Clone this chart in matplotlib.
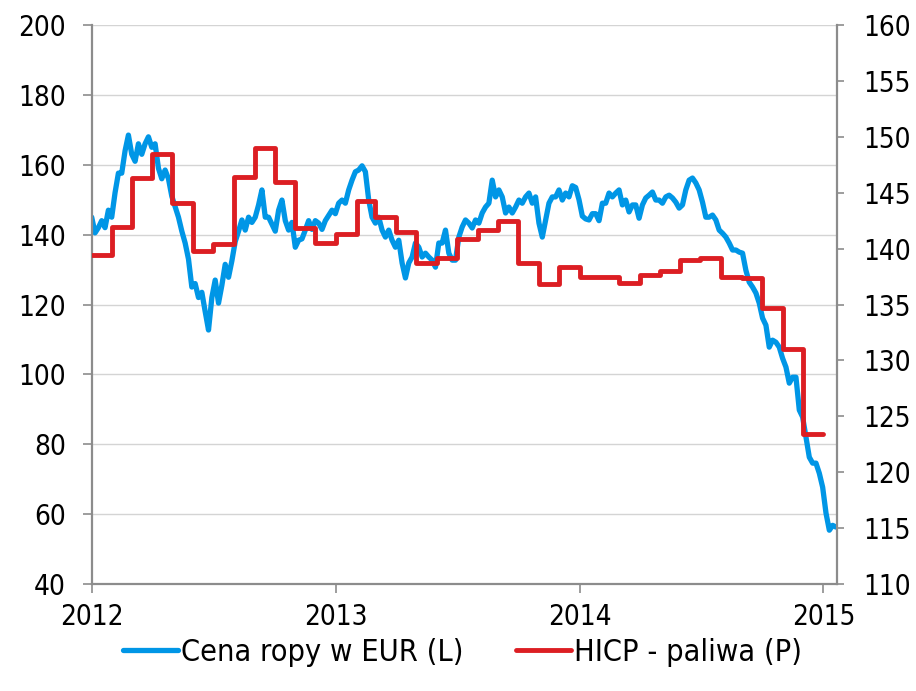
import numpy as np
import pandas as pd
import matplotlib
matplotlib.use("Agg")
import matplotlib.pyplot as plt
import matplotlib.dates as mdates

# oil price in EUR, read every 5 days from 2012-01-01 (left axis)
oil_start = "2012-01-01"
oil_eur = [
    145, 140.5, 142, 144, 142, 147, 145, 152, 157.6, 157.6,
    164, 168.5, 163, 161, 166, 163, 166, 168, 165, 166,
    159, 156, 158.5, 156, 151, 148, 145, 141, 137.6, 133,
    125, 126, 122, 123.5, 118, 112.7, 122, 127, 120.4, 125.5,
    131.5, 127.8, 132.5, 138, 141, 144.2, 141.3, 145, 143.5, 145,
    148.5, 152.8, 145, 145, 143, 141, 147, 149.9, 144, 141.3,
    143.5, 136.4, 138.4, 138.8, 141.3, 144, 141.5, 144, 143.3, 141.5,
    144, 145.5,
    147, 146, 149, 149.9, 149, 152.8, 155.6, 158, 158.5, 159.7,
    158, 149.9, 145, 143.3, 145, 141.3, 139.3, 141.3, 138.4, 136.4,
    138.4, 131.9, 127.6, 131.9, 133.6, 137.6, 136.4, 133.6, 134.7, 133.6,
    132.7, 130.7, 137.6, 137.6, 141.3, 134.7, 132.7, 132.7, 139.3, 142.2,
    144.2, 143.3, 141.9, 144.2, 143.3, 146.2, 147.9, 149, 155.6, 150.8,
    152.8, 150.8, 146.2, 147.9, 146.2, 147.9, 149.9, 149, 150.8, 151.9,
    149, 150.8, 143.3, 139.3, 144.2, 149, 150.8, 150.8, 152.8, 149.9,
    151.9, 150.8,
    154, 153.5, 150, 145.3, 144.5, 144.2, 146, 146, 144, 149,
    149, 151.9, 150.8, 151.9, 152.8, 148.5, 149.9, 146.5, 148.5, 148.5,
    144.7, 148.5, 150.5, 151.3, 152.2, 149.9, 149.9, 149, 150.8, 151.3,
    150.5, 149.3, 147.6, 148.5, 152.8, 155.6, 156.2, 154.8, 152.8, 149.3,
    145, 145, 145.6, 144.2, 141.3, 140.4, 139.3, 137.6, 135.6, 135.6,
    135, 134.7, 129.8, 126.4, 125, 123.3, 120.4, 116.1, 114.1, 107.8,
    109.8, 109.2, 107.8, 104.6, 102.1, 97.5, 99.2, 99.2, 89.8, 87.8,
    82, 76.3, 74.6, 74.6, 71.7, 67.7, 60.3, 55.4, 56.8, 56.3,
]

# HICP fuels, monthly Jan 2012 - Dec 2014 (right axis)
hicp_start = "2012-01-01"
hicp_fuel = [
    139.4, 141.9, 146.3, 148.5, 144.1, 139.8, 140.4, 146.4, 149.0, 146.0, 141.8, 140.5,
    141.3, 144.3, 142.8, 141.5, 138.7, 139.2, 140.9, 141.7, 142.5, 138.7, 136.8, 138.4,
    137.5, 137.5, 136.9, 137.6, 138.0, 139.0, 139.2, 137.5, 137.4, 134.7, 131.0, 123.4,
]

year_ticks = ["2012", "2013", "2014", "2015"]
label_oil = "Cena ropy w EUR (L)"
label_hicp = "HICP - paliwa (P)"

blue = "#0096E6"
red = "#DC1E23"
spine_col = "#8C8C8C"
grid_col = "#D4D4D4"

plt.rcParams["font.family"] = ["DejaVu Sans"]
plt.rcParams["font.stretch"] = "condensed"
fs = 20

oil_dates = pd.date_range(oil_start, periods=len(oil_eur), freq="5D")
hicp_dates = pd.date_range(hicp_start, periods=len(hicp_fuel) + 1, freq="MS")
hicp_vals = hicp_fuel + [hicp_fuel[-1]]

fig = plt.figure(figsize=(9.16, 6.91), dpi=100)
ax = fig.add_axes([0.1001, 0.1548, 0.8133, 0.8090])
ax2 = ax.twinx()

l1, = ax.plot(oil_dates, oil_eur, color=blue, lw=3.8,
              solid_capstyle="round", solid_joinstyle="round", label=label_oil)
l2, = ax2.step(hicp_dates, hicp_vals, where="post", color=red, lw=3.5,
               solid_capstyle="round", solid_joinstyle="round", label=label_hicp)

ax.set_xlim(pd.Timestamp("2012-01-01"), pd.Timestamp("2015-01-21"))
ax.set_ylim(40, 200)
ax2.set_ylim(110, 160)
ax.set_yticks(np.arange(40, 201, 20))
ax2.set_yticks(np.arange(110, 161, 5))
ax.set_xticks([pd.Timestamp(y + "-01-01") for y in year_ticks])
ax.xaxis.set_major_formatter(mdates.DateFormatter("%Y"))

ax.grid(axis="y", color=grid_col, lw=1.0)
ax.set_axisbelow(True)

for a in (ax, ax2):
    a.spines["top"].set_visible(False)
    for s in ("left", "right", "bottom"):
        a.spines[s].set_color(spine_col)
        a.spines[s].set_linewidth(1.6)
ax.spines["right"].set_visible(False)
ax2.spines["left"].set_visible(False)
ax2.spines["bottom"].set_visible(False)

ax.tick_params(axis="y", length=6.5, width=1.2, color=spine_col, pad=12, labelsize=fs)
ax.tick_params(axis="x", length=6.5, width=1.2, color=spine_col, pad=7, labelsize=fs)
ax2.tick_params(axis="y", length=5, width=1.2, color=spine_col, pad=14, labelsize=fs)

fig.legend(handles=[l1, l2], loc="center", bbox_to_anchor=(0.505, 0.056), ncol=2,
           frameon=False, fontsize=22, handlelength=1.8, handletextpad=0.1,
           columnspacing=1.7)

fig.savefig("out.png", dpi=100)
